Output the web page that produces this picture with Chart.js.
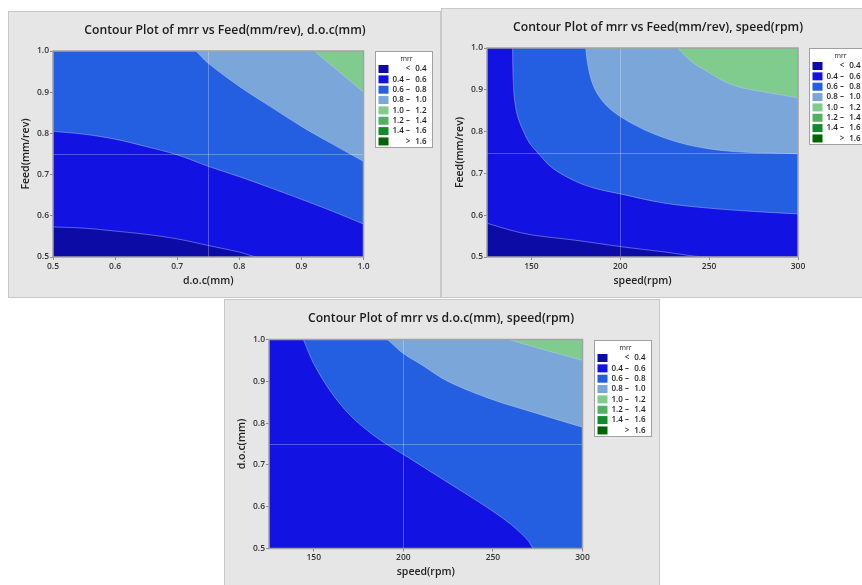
<!DOCTYPE html>
<html>
<head>
<meta charset="utf-8">
<script src="https://cdn.jsdelivr.net/npm/chart.js@4/dist/chart.umd.min.js"></script>
<style>
  html, body { margin: 0; padding: 0; background: #ffffff; }
  body { position: relative; width: 862px; height: 585px; overflow: hidden; }
  canvas { position: absolute; display: block; }
</style>
</head>
<body>
<canvas id="docFeed" width="433" height="287" style="left:8px;top:11px;width:433px;height:287px"></canvas>
<canvas id="speedFeed" width="433" height="290" style="left:441px;top:8px;width:433px;height:290px"></canvas>
<canvas id="speedDoc" width="436" height="290" style="left:224px;top:299px;width:436px;height:290px"></canvas>
<script>
// ---- mrr bands: colours and legend labels ----
const bandColors = ['#0d0ba6', '#1212e2', '#235fe0', '#7ba6d9', '#80cc8e', '#52b063', '#108a2a', '#006400'];
const legendLo   = ['',  '0.4', '0.6', '0.8', '1.0', '1.2', '1.4', ''];
const legendSign = ['<', '–',   '–',   '–',   '–',   '–',   '–',   '>'];
const legendHi   = ['0.4', '0.6', '0.8', '1.0', '1.2', '1.4', '1.6', '1.6'];

// ---- tick labels ----
const unitTicks  = [0.5, 0.6, 0.7, 0.8, 0.9, 1.0];
const speedTicks = [150, 200, 250, 300];

// ---- mrr vs Feed(mm/rev), d.o.c(mm): contour lines [d.o.c, feed] ----
const docFeed04 = [[0.5, 0.573], [0.55, 0.570], [0.6, 0.563], [0.65, 0.555], [0.7, 0.544], [0.75, 0.528], [0.8, 0.512], [0.831, 0.5], [1.0, 0.5]];
const docFeed06 = [[0.5, 0.805], [0.55, 0.798], [0.6, 0.786], [0.65, 0.768], [0.7, 0.748], [0.75, 0.720], [0.8, 0.695], [0.85, 0.668], [0.9, 0.640], [0.95, 0.611], [1.0, 0.580]];
const docFeed08 = [[0.730, 1.0], [0.75, 0.970], [0.8, 0.914], [0.85, 0.865], [0.9, 0.817], [0.95, 0.774], [1.0, 0.732]];
const docFeed10 = [[0.921, 1.0], [0.95, 0.963], [1.0, 0.900]];
const docFeedRefX = [0.75];
const docFeedRefY = [0.75];

// ---- mrr vs Feed(mm/rev), speed(rpm): contour lines [speed, feed] ----
const speedFeed04 = [[125, 0.581], [137.5, 0.565], [150, 0.553], [175, 0.540], [200, 0.525], [225, 0.512], [248, 0.5], [300, 0.5]];
const speedFeed06 = [[139.4, 1.0], [139.5, 0.96], [139.8, 0.92], [140.4, 0.88], [142.2, 0.837], [145.9, 0.797], [149, 0.772], [153, 0.752], [161.8, 0.713], [174.9, 0.681], [186, 0.664], [200, 0.651], [224.6, 0.629], [249.6, 0.617], [275, 0.609], [300, 0.603]];
const speedFeed08 = [[180.5, 1.0], [181.8, 0.958], [184.2, 0.917], [187.9, 0.885], [193.5, 0.857], [199.7, 0.837], [208.5, 0.815], [219.7, 0.793], [234.6, 0.772], [249.6, 0.759], [268.3, 0.751], [300, 0.747]];
const speedFeed10 = [[232.2, 1.0], [240.2, 0.967], [249.6, 0.942], [258.9, 0.919], [268.3, 0.905], [283.2, 0.893], [300, 0.881]];
const speedFeedRefX = [200];
const speedFeedRefY = [0.75];

// ---- mrr vs d.o.c(mm), speed(rpm): contour lines [speed, d.o.c] ----
const speedDoc06 = [[144.2, 1.0], [150, 0.942], [160, 0.872], [170, 0.820], [180, 0.782], [190, 0.751], [200, 0.725], [210, 0.698], [220, 0.671], [230, 0.644], [240, 0.617], [250, 0.589], [260, 0.558], [266, 0.535], [270, 0.517], [273.2, 0.5], [300, 0.5]];
const speedDoc08 = [[191.1, 1.0], [199.8, 0.967], [210.3, 0.939], [225.2, 0.899], [249.9, 0.856], [275.4, 0.822], [300, 0.790]];
const speedDoc10 = [[258.7, 1.0], [275.4, 0.979], [300, 0.950]];
const speedDocRefX = [200];
const speedDocRefY = [0.75];

const FONT = '"Open Sans", "Noto Sans", sans-serif';
const fmtTick = (step) => (v) => step < 1 ? Number(v).toFixed(1) : String(v);

// Panel background, title, base band, reference lines, frame and mrr legend
function makePanelPlugin(spec) {
  return {
    id: 'panel_' + spec.id,
    beforeDraw(chart) {
      const { ctx, width, height, chartArea: a } = chart;
      ctx.save();
      ctx.fillStyle = '#e6e6e6';
      ctx.fillRect(0, 0, width, height);
      ctx.strokeStyle = '#c8c8c8';
      ctx.lineWidth = 1;
      ctx.strokeRect(0.5, 0.5, width - 1, height - 1);
      ctx.fillStyle = '#1c1c1c';
      ctx.font = '600 12.2px ' + FONT;
      ctx.textAlign = 'center';
      ctx.textBaseline = 'middle';
      ctx.fillText(spec.title, 217, 19.5);
      ctx.fillStyle = bandColors[spec.baseBand];
      ctx.fillRect(a.left, a.top, a.right - a.left, a.bottom - a.top);
      ctx.restore();
    },
    afterDatasetsDraw(chart) {
      const { ctx, chartArea: a, scales: { x, y } } = chart;
      ctx.save();
      ctx.strokeStyle = 'rgba(255,255,255,0.28)';
      ctx.lineWidth = 1;
      spec.refX.forEach(v => {
        const px = Math.round(x.getPixelForValue(v)) + 0.5;
        ctx.beginPath(); ctx.moveTo(px, a.top); ctx.lineTo(px, a.bottom); ctx.stroke();
      });
      spec.refY.forEach(v => {
        const py = Math.round(y.getPixelForValue(v)) + 0.5;
        ctx.beginPath(); ctx.moveTo(a.left, py); ctx.lineTo(a.right, py); ctx.stroke();
      });
      ctx.strokeStyle = '#a2a2a2';
      ctx.lineWidth = 1.5;
      ctx.strokeRect(a.left, a.top, a.right - a.left, a.bottom - a.top);
      ctx.restore();
    },
    afterDraw(chart) {
      const { ctx, chartArea: a } = chart;
      const bx = Math.round(a.right + 11) + 0.5, by = Math.round(a.top) + 0.5;
      ctx.save();
      ctx.fillStyle = '#ffffff';
      ctx.fillRect(bx, by, 57, 96);
      ctx.strokeStyle = '#a0a0a0';
      ctx.lineWidth = 1;
      ctx.strokeRect(bx, by, 57, 96);
      ctx.fillStyle = '#222';
      ctx.textBaseline = 'middle';
      ctx.textAlign = 'center';
      ctx.font = '400 7px ' + FONT;
      ctx.fillText('mrr', bx + 31, by + 7);
      ctx.font = '600 8px ' + FONT;
      for (let i = 0; i < bandColors.length; i++) {
        const ry = by + 17.5 + i * 10.35;
        ctx.fillStyle = bandColors[i];
        ctx.fillRect(bx + 3, ry - 4, 10, 8);
        ctx.fillStyle = '#222';
        ctx.textAlign = 'left';
        ctx.fillText(legendLo[i], bx + 17, ry);
        ctx.textAlign = 'center';
        ctx.fillText(legendSign[i], bx + 32.5, ry);
        ctx.textAlign = 'right';
        ctx.fillText(legendHi[i], bx + 51, ry);
      }
      ctx.restore();
    }
  };
}

function contourChart(spec) {
  const canvas = document.getElementById(spec.id);
  const W = canvas.width, H = canvas.height;
  const yAxisW = 33, xAxisH = 30;
  const area = spec.area;
  const datasets = spec.contours.map(c => ({
    data: c.points.map(([x, y]) => ({ x, y })),
    fill: 'end',
    backgroundColor: bandColors[c.band],
    borderColor: 'rgba(190,210,255,0.55)',
    borderWidth: 0.8,
    pointRadius: 0,
    tension: 0.35,
    order: 20 - c.band
  }));
  const tickFont = { family: FONT, size: 8.5, weight: '600' };
  const titleFont = { family: FONT, size: 10.5, weight: '600' };
  return new Chart(canvas, {
    type: 'line',
    data: { datasets },
    plugins: [makePanelPlugin(spec)],
    options: {
      responsive: false,
      animation: false,
      events: [],
      layout: {
        padding: {
          left: area.left - yAxisW,
          top: area.top,
          right: W - area.right,
          bottom: H - area.bottom - xAxisH
        }
      },
      plugins: { legend: { display: false }, tooltip: { enabled: false }, title: { display: false } },
      scales: {
        x: {
          type: 'linear', min: spec.xMin, max: spec.xMax,
          afterBuildTicks: s => { s.ticks = spec.xTicks.map(v => ({ value: v })); },
          afterFit: s => { s.height = xAxisH; },
          grid: { drawOnChartArea: false, drawTicks: true, tickLength: 3, color: '#8a8a8a' },
          border: { display: false },
          ticks: { font: tickFont, color: '#333', padding: 1, maxRotation: 0, autoSkip: false, callback: fmtTick(spec.xStep) },
          title: { display: true, text: spec.xTitle, font: titleFont, color: '#222', padding: 0 }
        },
        y: {
          type: 'linear', min: 0.5, max: 1.0,
          afterBuildTicks: s => { s.ticks = spec.yTicks.map(v => ({ value: v })); },
          afterFit: s => { s.width = yAxisW; },
          grid: { drawOnChartArea: false, drawTicks: true, tickLength: 3, color: '#8a8a8a' },
          border: { display: false },
          ticks: { font: tickFont, color: '#333', padding: 1, autoSkip: false, callback: fmtTick(0.1) },
          title: { display: true, text: spec.yTitle, font: titleFont, color: '#222', padding: 0 }
        }
      }
    }
  });
}

contourChart({
  id: 'docFeed',
  title: 'Contour Plot of mrr vs Feed(mm/rev), d.o.c(mm)',
  xTitle: 'd.o.c(mm)', yTitle: 'Feed(mm/rev)',
  xMin: 0.5, xMax: 1.0, xStep: 0.1, xTicks: unitTicks, yTicks: unitTicks,
  area: { left: 45, top: 40, right: 355.5, bottom: 246 },
  baseBand: 0,
  contours: [
    { band: 1, points: docFeed04 },
    { band: 2, points: docFeed06 },
    { band: 3, points: docFeed08 },
    { band: 4, points: docFeed10 }
  ],
  refX: docFeedRefX, refY: docFeedRefY
});

contourChart({
  id: 'speedFeed',
  title: 'Contour Plot of mrr vs Feed(mm/rev), speed(rpm)',
  xTitle: 'speed(rpm)', yTitle: 'Feed(mm/rev)',
  xMin: 125, xMax: 300, xStep: 50, xTicks: speedTicks, yTicks: unitTicks,
  area: { left: 46, top: 40, right: 357, bottom: 249 },
  baseBand: 0,
  contours: [
    { band: 1, points: speedFeed04 },
    { band: 2, points: speedFeed06 },
    { band: 3, points: speedFeed08 },
    { band: 4, points: speedFeed10 }
  ],
  refX: speedFeedRefX, refY: speedFeedRefY
});

contourChart({
  id: 'speedDoc',
  title: 'Contour Plot of mrr vs d.o.c(mm), speed(rpm)',
  xTitle: 'speed(rpm)', yTitle: 'd.o.c(mm)',
  xMin: 125, xMax: 300, xStep: 50, xTicks: speedTicks, yTicks: unitTicks,
  area: { left: 45, top: 40.5, right: 358.5, bottom: 249.5 },
  baseBand: 1,
  contours: [
    { band: 2, points: speedDoc06 },
    { band: 3, points: speedDoc08 },
    { band: 4, points: speedDoc10 }
  ],
  refX: speedDocRefX, refY: speedDocRefY
});
</script>
</body>
</html>
